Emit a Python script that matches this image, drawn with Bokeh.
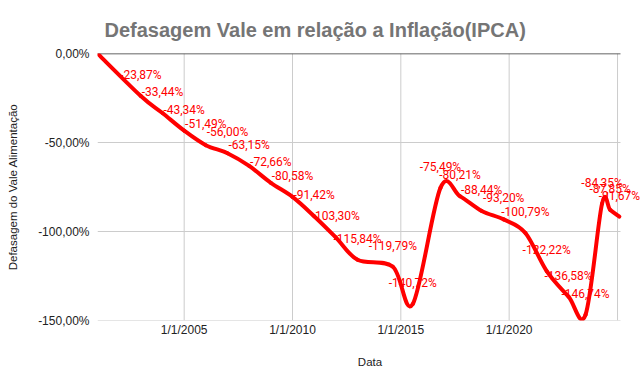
import numpy as np
import pandas as pd
from bokeh.plotting import figure
from bokeh.models import (ColumnDataSource, LabelSet, FixedTicker, Title,
                          Range1d, CustomJSTickFormatter)
from bokeh.core.properties import value
from bokeh.embed import file_html
from bokeh.resources import INLINE

# ---------------- data ----------------
dates = ["2001-01-01", "2003-01-01", "2004-01-01", "2005-01-01", "2006-01-01",
         "2007-01-01", "2008-01-01", "2009-01-01", "2010-01-01", "2011-01-01",
         "2012-01-01", "2013-01-01", "2014-08-20", "2015-07-22", "2016-10-30",
         "2017-09-25", "2018-09-25", "2019-10-01", "2020-10-01", "2021-09-25",
         "2022-09-28", "2023-07-12", "2024-04-15", "2024-08-30", "2025-02-01"]
values = [0.00, -23.87, -33.44, -43.34, -51.49,
          -56.00, -63.15, -72.66, -80.58, -91.42,
          -103.30, -115.84, -119.79, -140.72, -75.49,
          -80.21, -88.44, -93.20, -100.79, -122.22,
          -136.58, -146.74, -84.35, -87.85, -91.67]
x_start = "2001-01-01"
x_end = "2025-02-20"
x_tick_dates = ["2005-01-01", "2010-01-01", "2015-01-01", "2020-01-01", "2025-01-01"]
x_tick_labels = ["1/1/2005", "1/1/2010", "1/1/2015", "1/1/2020", ""]
y_ticks = [0, -50, -100, -150]
y_tick_labels = ["0,00%", "-50,00%", "-100,00%", "-150,00%"]
title_text = "Defasagem Vale em relação a Inflação(IPCA)"
x_title = "Data"
y_title = "Defasagem do Vale Alimentação"


def ms(s):
    return int(pd.Timestamp(s).value // 10**6)


x = np.array([ms(d) for d in dates], dtype=float)
y = np.array(values, dtype=float)
n = len(x)

# ---------------- smooth curve (Catmull-Rom -> cubic Bezier) ----------------
P = np.column_stack([x, y])
Pm = np.vstack([P[0], P, P[-1]])
c1 = P[:-1] + (Pm[2:n + 1] - Pm[0:n - 1]) / 6.0
c2 = P[1:] - (Pm[3:n + 2] - Pm[1:n]) / 6.0

# ---------------- layout ----------------
W, H = 642, 375
PLOT_L, PLOT_R, PLOT_T, PLOT_B = 97, 620, 53, 320   # visible chart area (px)
BL, BB, BT = PLOT_L, H - PLOT_B, PLOT_T
frame_w = W - BL
xs, xe = ms(x_start), ms(x_end)
# frame extends to the canvas right edge so the last labels are not clipped
x_rng_end = xs + (xe - xs) * frame_w / (PLOT_R - PLOT_L)
y_lo, y_hi = min(y_ticks), max(y_ticks)

p = figure(width=W, height=H, x_axis_type="datetime", output_backend="svg",
           toolbar_location=None,
           x_range=Range1d(xs, x_rng_end), y_range=Range1d(y_lo, y_hi),
           min_border_left=BL, min_border_right=0, min_border_top=BT,
           min_border_bottom=BB)
p.outline_line_color = None
p.background_fill_color = "white"
p.border_fill_color = "white"
p.xgrid.visible = False
p.ygrid.visible = False

# title
p.title.text = title_text
p.title.align = "left"
p.title.offset = 7
p.title.text_font = "Liberation Sans"
p.title.text_font_style = "bold"
p.title.text_font_size = "20px"
p.title.text_color = "#757575"
if "standoff" in Title.properties():
    p.title.standoff = 26

x_ticks = [ms(d) for d in x_tick_dates]
p.xaxis.ticker = FixedTicker(ticks=x_ticks)
p.yaxis.ticker = FixedTicker(ticks=y_ticks)
p.xaxis.formatter = CustomJSTickFormatter(
    args=dict(tvals=x_ticks, tlabs=x_tick_labels),
    code="""
    for (let i = 0; i < tvals.length; i++) {
        if (Math.abs(tvals[i] - tick) < 1e6) return tlabs[i];
    }
    return "";
""")
p.yaxis.formatter = CustomJSTickFormatter(
    args=dict(tvals=y_ticks, tlabs=y_tick_labels),
    code="""
    for (let i = 0; i < tvals.length; i++) {
        if (Math.abs(tvals[i] - tick) < 1e-6) return tlabs[i];
    }
    return "";
""")

# grid lines limited to the chart area
p.segment(x0=x_ticks, x1=x_ticks, y0=y_lo, y1=y_hi, line_color="#cccccc", line_width=1)
hgrid = [t for t in y_ticks if t != 0]
p.segment(x0=xs, x1=xe, y0=hgrid, y1=hgrid, line_color="#cccccc", line_width=1)
p.segment(x0=[xs], x1=[xe], y0=[0], y1=[0], line_color="#333333", line_width=1.5)

for ax in p.axis:
    ax.axis_line_color = None
    ax.major_tick_line_color = None
    ax.minor_tick_line_color = None
    ax.major_tick_out = 0
    ax.major_tick_in = 0
    ax.major_label_text_font = "Liberation Sans"
    ax.major_label_text_font_size = "12px"
    ax.major_label_text_color = "#222222"
    ax.axis_label_text_font = "Liberation Sans"
    ax.axis_label_text_font_size = "11.5px"
    ax.axis_label_text_font_style = "normal"
    ax.axis_label_text_color = "#222222"

p.xaxis.axis_label = x_title
p.yaxis.axis_label = y_title
p.xaxis.major_label_standoff = 2
p.yaxis.major_label_standoff = 8
p.xaxis.axis_label_standoff = 16
p.yaxis.axis_label_standoff = 16

p.bezier(x0=P[:-1, 0], y0=P[:-1, 1], x1=P[1:, 0], y1=P[1:, 1],
         cx0=c1[:, 0], cy0=c1[:, 1], cx1=c2[:, 0], cy1=c2[:, 1],
         line_color="#ff0000", line_width=4, line_cap="round")

# data labels (first point at 0 has no label in the reference)
lab_text = [f"{v:.2f}".replace(".", ",") + "%" for v in values]
px = BL + (x - xs) / (x_rng_end - xs) * frame_w
half_w = 21.0
xoff = np.minimum(0.0, (W - 1) - (px + half_w))
src = ColumnDataSource(dict(x=x[1:], y=y[1:], text=lab_text[1:], xoff=xoff[1:]))
labels = LabelSet(x="x", y="y", text="text", source=src, x_offset="xoff",
                  y_offset=21, text_align="center", text_baseline="middle",
                  text_font=value("Roboto"), text_font_size=value("12px"),
                  text_color=value("#ff0000"))
p.add_layout(labels)

open("out.html", "w").write(file_html(p, INLINE))
